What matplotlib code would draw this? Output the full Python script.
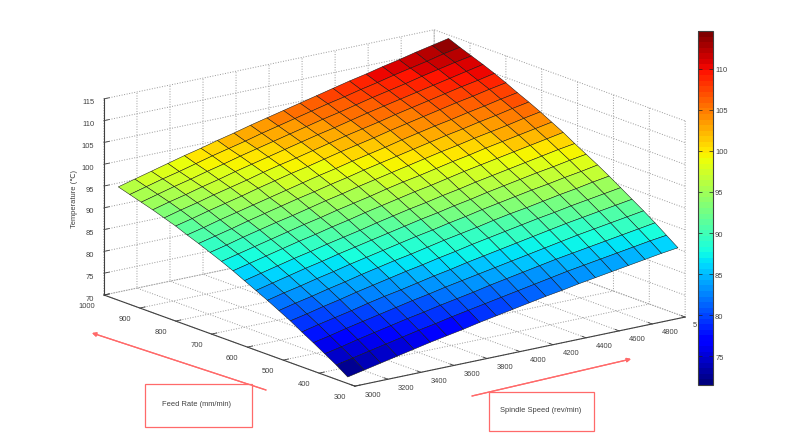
import numpy as np
import matplotlib
matplotlib.use('Agg')
import matplotlib.pyplot as plt
from matplotlib.patches import Rectangle
from matplotlib.cm import ScalarMappable
from matplotlib.colors import Normalize

speed_ticks = [3000, 3200, 3400, 3600, 3800, 4000, 4200, 4400, 4600, 4800, 5000]
speed_labels = ['3000', '3200', '3400', '3600', '3800', '4000', '4200', '4400', '4600', '4800', '5']
feed_ticks = [300, 400, 500, 600, 700, 800, 900, 1000]
temp_ticks = [70, 75, 80, 85, 90, 95, 100, 105, 110, 115]
cbar_ticks = [75, 80, 85, 90, 95, 100, 105, 110]
cbar_range = [71.5, 114.6]

speed = np.arange(3000, 5001, 100)
feed = np.arange(320, 961, 32)

# строки - подача, столбцы - скорость шпинделя
temp = np.array([
    [71.5, 72.3, 73.1, 73.9, 74.7, 75.5, 76.2, 76.9, 77.7, 78.4, 79.1, 79.8, 80.5, 81.1, 81.8, 82.4, 83.0, 83.6, 84.2, 84.8, 85.3],
    [73.3, 74.1, 74.9, 75.7, 76.5, 77.3, 78.0, 78.8, 79.5, 80.2, 80.9, 81.6, 82.3, 83.0, 83.7, 84.3, 84.9, 85.5, 86.1, 86.7, 87.2],
    [74.9, 75.7, 76.6, 77.4, 78.2, 79.0, 79.7, 80.5, 81.2, 81.9, 82.7, 83.4, 84.1, 84.8, 85.5, 86.1, 86.7, 87.3, 87.9, 88.5, 89.1],
    [76.5, 77.3, 78.2, 79.0, 79.8, 80.6, 81.4, 82.1, 82.9, 83.6, 84.3, 85.0, 85.7, 86.4, 87.1, 87.8, 88.5, 89.1, 89.7, 90.3, 90.9],
    [78.0, 78.9, 79.7, 80.5, 81.4, 82.2, 82.9, 83.7, 84.5, 85.2, 86.0, 86.7, 87.4, 88.1, 88.8, 89.5, 90.2, 90.8, 91.4, 92.0, 92.6],
    [79.6, 80.4, 81.3, 82.1, 83.0, 83.8, 84.6, 85.4, 86.1, 86.9, 87.6, 88.4, 89.1, 89.8, 90.5, 91.2, 91.8, 92.5, 93.1, 93.7, 94.3],
    [81.0, 81.9, 82.7, 83.6, 84.4, 85.3, 86.1, 86.9, 87.6, 88.4, 89.2, 89.9, 90.6, 91.4, 92.1, 92.7, 93.4, 94.1, 94.7, 95.4, 96.0],
    [82.4, 83.3, 84.1, 85.0, 85.8, 86.7, 87.5, 88.3, 89.1, 89.9, 90.6, 91.4, 92.1, 92.9, 93.6, 94.3, 95.0, 95.6, 96.3, 96.9, 97.6],
    [83.7, 84.6, 85.5, 86.4, 87.2, 88.1, 88.9, 89.7, 90.5, 91.3, 92.1, 92.8, 93.6, 94.3, 95.1, 95.8, 96.5, 97.2, 97.8, 98.5, 99.1],
    [85.0, 85.9, 86.8, 87.7, 88.5, 89.4, 90.2, 91.0, 91.9, 92.7, 93.5, 94.2, 95.0, 95.7, 96.5, 97.2, 97.9, 98.6, 99.3, 100.0, 100.6],
    [86.3, 87.2, 88.1, 89.0, 89.9, 90.7, 91.6, 92.4, 93.3, 94.1, 94.9, 95.7, 96.4, 97.2, 98.0, 98.7, 99.4, 100.1, 100.8, 101.5, 102.2],
    [87.5, 88.4, 89.3, 90.2, 91.1, 92.0, 92.8, 93.7, 94.5, 95.3, 96.2, 97.0, 97.7, 98.5, 99.3, 100.0, 100.8, 101.5, 102.2, 102.9, 103.6],
    [88.6, 89.5, 90.5, 91.4, 92.3, 93.1, 94.0, 94.9, 95.7, 96.6, 97.4, 98.2, 99.0, 99.8, 100.6, 101.3, 102.1, 102.8, 103.5, 104.3, 105.0],
    [89.7, 90.6, 91.5, 92.5, 93.4, 94.3, 95.2, 96.0, 96.9, 97.7, 98.6, 99.4, 100.2, 101.0, 101.8, 102.6, 103.3, 104.1, 104.8, 105.6, 106.3],
    [90.7, 91.6, 92.6, 93.5, 94.4, 95.3, 96.2, 97.1, 98.0, 98.8, 99.7, 100.5, 101.3, 102.2, 103.0, 103.8, 104.5, 105.3, 106.0, 106.8, 107.5],
    [91.8, 92.7, 93.7, 94.6, 95.5, 96.5, 97.4, 98.3, 99.1, 100.0, 100.9, 101.7, 102.5, 103.4, 104.2, 105.0, 105.8, 106.6, 107.3, 108.1, 108.8],
    [92.7, 93.7, 94.6, 95.6, 96.5, 97.4, 98.4, 99.3, 100.1, 101.0, 101.9, 102.8, 103.6, 104.4, 105.3, 106.1, 106.9, 107.7, 108.5, 109.2, 110.0],
    [93.6, 94.6, 95.5, 96.5, 97.4, 98.4, 99.3, 100.2, 101.1, 102.0, 102.9, 103.7, 104.6, 105.5, 106.3, 107.1, 107.9, 108.7, 109.5, 110.3, 111.1],
    [94.4, 95.4, 96.4, 97.3, 98.3, 99.2, 100.2, 101.1, 102.0, 102.9, 103.8, 104.7, 105.5, 106.4, 107.3, 108.1, 108.9, 109.8, 110.6, 111.4, 112.1],
    [95.2, 96.2, 97.2, 98.1, 99.1, 100.1, 101.0, 101.9, 102.9, 103.8, 104.7, 105.6, 106.5, 107.3, 108.2, 109.0, 109.9, 110.7, 111.5, 112.4, 113.1],
    [96.0, 97.0, 98.0, 99.0, 100.0, 100.9, 101.9, 102.8, 103.8, 104.7, 105.6, 106.5, 107.4, 108.3, 109.2, 110.0, 110.9, 111.7, 112.6, 113.4, 114.2],
])

plt.rcParams['font.family'] = ['Liberation Sans', 'DejaVu Sans']
plt.rcParams['grid.linestyle'] = ':'
plt.rcParams['grid.color'] = '#999999'
plt.rcParams['grid.linewidth'] = 0.7

W, H = 800, 435
DARK = '#404040'
RED = '#ff6a6a'
FS = 5.4


def px(x, y):
    """Пиксели картинки (y вниз) в доли фигуры."""
    return x / W, 1 - y / H


fig = plt.figure(figsize=(W / 100, H / 100), dpi=100, facecolor='white')

side = 603
ax = fig.add_axes([84.9 / W, -83.6 / H, side / W, side / H], projection='3d', proj_type='ortho')
ax.patch.set_alpha(0)
ax.view_init(elev=16, azim=-127.2)
ax.set_box_aspect((414.5, 415, 204))

norm = Normalize(*cbar_range)
cmap = plt.get_cmap('jet', 64)
X, Y = np.meshgrid(speed, feed)
ax.plot_surface(X, Y, temp, rstride=1, cstride=1, cmap=cmap, norm=norm,
                edgecolor='#101010', linewidth=0.35, shade=False, antialiased=True)

ax.set_xlim(3000, 5000, view_margin=0)
ax.set_ylim(300, 1000, view_margin=0)
ax.set_zlim(70, 115, view_margin=0)
ax.set_xticks(speed_ticks)
ax.set_xticklabels(speed_labels)
ax.set_yticks(feed_ticks)
ax.set_zticks(temp_ticks)
ax.tick_params(labelsize=FS, colors=DARK)
ax.tick_params(axis='x', pad=1)
ax.tick_params(axis='y', pad=-2)
ax.tick_params(axis='z', pad=-4.2)
ax.zaxis.set_ticks_position('upper')

for t in ax.xaxis.get_major_ticks():
    t.label1.set_horizontalalignment('left')
    t.label1.set_verticalalignment('bottom')
ax.xaxis.get_major_ticks()[-1].label1.set_horizontalalignment('center')
for t in ax.yaxis.get_major_ticks():
    t.label1.set_horizontalalignment('right')
for t in ax.zaxis.get_major_ticks():
    t.label1.set_horizontalalignment('right')

for axis in (ax.xaxis, ax.yaxis, ax.zaxis):
    axis.pane.set_facecolor('white')
    axis.pane.set_edgecolor('none')
    axis.line.set_color(DARK)
    axis.line.set_linewidth(0.8)
    axis._axinfo['tick']['inward_factor'] = 0.0
    axis._axinfo['tick']['outward_factor'] = 0.2
    axis._axinfo['tick']['linewidth'] = {True: 0.6, False: 0.4}

# цветовая шкала
cx0, cy0 = px(698, 386)
cx1, cy1 = px(713, 32)
cax = fig.add_axes([cx0, cy0, cx1 - cx0, cy1 - cy0])
cb = fig.colorbar(ScalarMappable(norm=norm, cmap=cmap), cax=cax, ticks=cbar_ticks)
cb.outline.set_edgecolor(DARK)
cb.outline.set_linewidth(0.8)
cax.tick_params(direction='in', length=3, width=0.5, left=True, right=True,
                labelsize=FS, labelcolor=DARK, color='#202020', pad=1.5)

# подписи и стрелки поверх графика
fig.text(*px(74, 199), 'Temperature (℃)', rotation=90, fontsize=FS, color=DARK,
         ha='center', va='center')

for (x0, y0, x1, y1) in [(266, 391, 92, 334), (472, 397, 631, 360)]:
    fig.add_artist(plt.annotate('', xy=px(x1, y1), xytext=px(x0, y0), xycoords='figure fraction',
                                textcoords='figure fraction',
                                arrowprops=dict(arrowstyle='-|>', color=RED, lw=0.9,
                                                mutation_scale=6, shrinkA=0, shrinkB=0)))

for (x0, y0, x1, y1) in [(145, 385, 252, 428), (489, 393, 594, 432)]:
    fx, fy = px(x0, y1)
    fw, fh = (x1 - x0) / W, (y1 - y0) / H
    fig.add_artist(Rectangle((fx, fy), fw, fh, transform=fig.transFigure, facecolor='white',
                             edgecolor=RED, lw=0.9))

fig.text(*px(197, 405), 'Feed Rate (mm/min)', fontsize=FS, color=DARK, ha='center', va='center')
fig.text(*px(500, 411), 'Spindle Speed (rev/min)', fontsize=FS, color=DARK, ha='left', va='center')

fig.savefig('out.png', dpi=100)
